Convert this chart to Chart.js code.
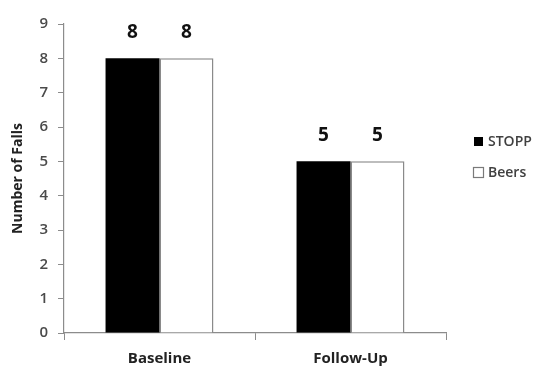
<!DOCTYPE html>
<html>
<head>
<meta charset="utf-8">
<script src="https://cdn.jsdelivr.net/npm/chart.js@4/dist/chart.umd.min.js"></script>
<style>
  html, body { margin: 0; padding: 0; background: #fff; }
  #wrap { width: 546px; height: 368px; position: relative; }
</style>
</head>
<body>
<div id="wrap"><canvas id="c" width="546" height="368"></canvas></div>
<script>
// Falls recorded at each time point
const categories = ['Baseline', 'Follow-Up'];
const stoppFalls = [8, 5];
const beersFalls = [8, 5];
const yTicks = [0, 1, 2, 3, 4, 5, 6, 7, 8, 9];
const seriesNames = ['STOPP', 'Beers'];

const FONT = "'Open Sans', 'Liberation Sans', sans-serif";

// Value labels above each bar
const valueLabels = {
  id: 'valueLabels',
  afterDatasetsDraw(chart) {
    const ctx = chart.ctx;
    ctx.save();
    ctx.font = "bold 19px " + FONT;
    ctx.fillStyle = '#111';
    ctx.textAlign = 'center';
    ctx.textBaseline = 'middle';
    chart.data.datasets.forEach((ds, di) => {
      chart.getDatasetMeta(di).data.forEach((bar, i) => {
        ctx.fillText(String(ds.data[i]), bar.x, bar.y - 26);
      });
    });
    ctx.restore();
  }
};

// Legend at the right with square swatches
const sideLegend = {
  id: 'sideLegend',
  afterDraw(chart) {
    const ctx = chart.ctx;
    ctx.save();
    ctx.font = "600 14px " + FONT;
    ctx.textBaseline = 'middle';
    ctx.textAlign = 'left';
    const x0 = 473, rows = [141, 172];
    chart.data.datasets.forEach((ds, i) => {
      const y = rows[i];
      if (i === 0) {
        ctx.fillStyle = ds.backgroundColor;
        ctx.fillRect(x0 + 1, y - 4, 9, 9);
      } else {
        ctx.fillStyle = '#fff';
        ctx.fillRect(x0, y - 5, 10, 10);
        ctx.strokeStyle = '#7a7a7a';
        ctx.lineWidth = 1.2;
        ctx.strokeRect(x0 + 0.5, y - 4.5, 10, 10);
      }
      ctx.fillStyle = '#404040';
      ctx.fillText(ds.label, x0 + 15, y + 1);
    });
    ctx.restore();
  }
};

new Chart(document.getElementById('c'), {
  type: 'bar',
  data: {
    labels: categories,
    datasets: [
      {
        label: seriesNames[0],
        data: stoppFalls,
        backgroundColor: '#000',
        borderColor: '#000',
        borderWidth: 0
      },
      {
        label: seriesNames[1],
        data: beersFalls,
        backgroundColor: '#fff',
        borderColor: '#8a8a8a',
        borderWidth: 1.5,
        borderSkipped: 'bottom'
      }
    ]
  },
  options: {
    responsive: false,
    animation: false,
    devicePixelRatio: 1,
    layout: { padding: { left: 0, top: 24, right: 100, bottom: 0 } },
    datasets: { bar: { barPercentage: 1.0, categoryPercentage: 0.565 } },
    plugins: {
      legend: { display: false },
      tooltip: { enabled: false }
    },
    scales: {
      x: {
        offset: true,
        grid: {
          display: true,
          offset: true,
          drawOnChartArea: false,
          drawTicks: true,
          tickLength: 7,
          color: '#8c8c8c'
        },
        border: { display: true, color: '#8c8c8c', width: 1.2 },
        ticks: {
          color: '#222',
          font: { family: FONT, size: 15, weight: 'bold' },
          padding: 10
        },
        afterFit(scale) { scale.height = 35; }
      },
      y: {
        min: 0,
        max: 9,
        afterBuildTicks(scale) { scale.ticks = yTicks.map(v => ({ value: v })); },
        grid: {
          display: true,
          drawOnChartArea: false,
          drawTicks: true,
          tickLength: 6,
          color: '#8c8c8c'
        },
        border: { display: true, color: '#8c8c8c', width: 1.2 },
        ticks: {
          color: '#4a4a4a',
          font: { family: FONT, size: 15, weight: '600' },
          padding: 10
        },
        title: {
          display: true,
          text: 'Number of Falls',
          color: '#222',
          font: { family: FONT, size: 14, weight: 'bold' },
          padding: { top: 10, bottom: 0 }
        },
        afterFit(scale) { scale.width = 64; }
      }
    }
  },
  plugins: [valueLabels, sideLegend]
});
</script>
</body>
</html>
